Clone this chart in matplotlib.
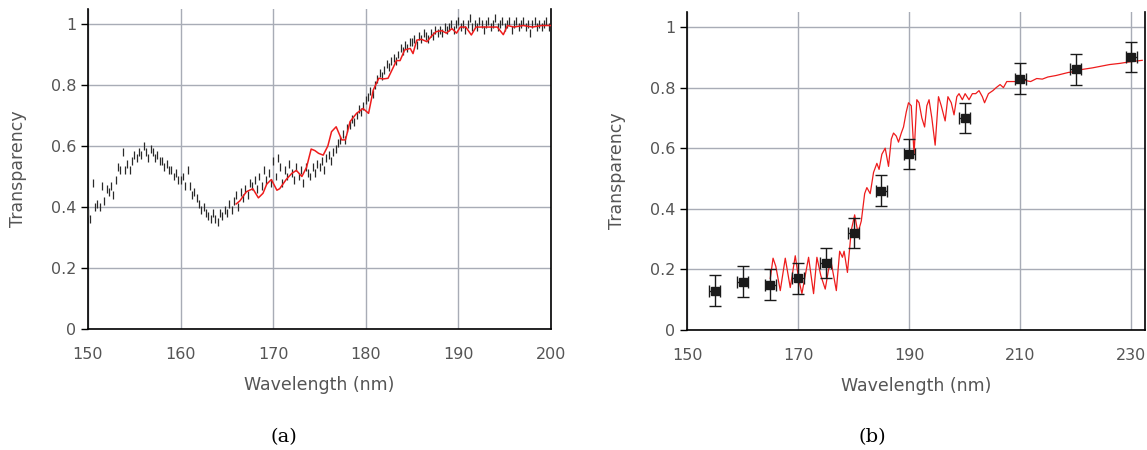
import numpy as np
import matplotlib
matplotlib.use("Agg")
import matplotlib.pyplot as plt

# ---------------- Panel (a) data ----------------
# measured transparency (black bars), 0.25 nm step from 150 to 200 nm
a_meas_start = 150.0
a_meas_step = 0.25
a_meas_T = [
    0.38, 0.36, 0.48, 0.40,  0.41, 0.40, 0.47, 0.42,  0.46, 0.45, 0.47, 0.44,
    0.49, 0.53, 0.52, 0.58,  0.52, 0.54, 0.52, 0.55,  0.57, 0.56, 0.58, 0.57,
    0.60, 0.58, 0.56, 0.59,  0.58, 0.56, 0.57, 0.55,  0.55, 0.53, 0.54, 0.52,
    0.52, 0.50, 0.51, 0.49,  0.49, 0.50, 0.47, 0.52,  0.47, 0.44, 0.45, 0.43,
    0.41, 0.39, 0.40, 0.38,  0.37, 0.36, 0.38, 0.36,  0.35, 0.38, 0.37, 0.39,
    0.38, 0.41, 0.39, 0.42,  0.44, 0.40, 0.45, 0.43,  0.46, 0.44, 0.48, 0.47,
    0.49, 0.46, 0.50, 0.47,  0.52, 0.49, 0.51, 0.48,  0.55, 0.50, 0.56, 0.53,
    0.48, 0.52, 0.50, 0.54,  0.51, 0.49, 0.53, 0.50,  0.52, 0.48, 0.53, 0.51,
    0.50, 0.53, 0.51, 0.54,  0.53, 0.55, 0.52, 0.56,  0.57, 0.55, 0.58, 0.59,
    0.61, 0.62, 0.64, 0.62,  0.66, 0.67, 0.69, 0.68,  0.70, 0.72, 0.71, 0.73,
    0.75, 0.76, 0.78, 0.77,  0.80, 0.82, 0.84, 0.83,  0.85, 0.87, 0.86, 0.88,
    0.89, 0.88, 0.90, 0.92,  0.91, 0.93, 0.92, 0.94,  0.94, 0.95, 0.93, 0.96,
    0.95, 0.97, 0.96, 0.95,  0.97, 0.96, 0.98, 0.97,  0.98, 0.97, 0.99, 0.98,
    0.99, 1.00, 0.98, 1.00,  1.01, 0.99, 1.00, 0.98,  1.00, 1.02, 0.99, 1.00,
    0.99, 1.01, 1.00, 0.98,  1.00, 1.01, 0.99, 1.00,  1.02, 0.99, 1.00, 1.01,
    0.99, 1.00, 1.01, 0.98,  1.00, 1.01, 0.99, 1.00,  1.01, 0.99, 1.00, 0.97,
    1.00, 1.01, 0.99, 1.00,  0.99, 1.00, 1.01, 0.99,  1.00,
]
a_meas_err = 0.013

# simulated transparency (red line)
a_sim_wl = [166.0, 166.4, 167.1, 167.8, 168.4, 168.9, 169.3, 169.8, 170.4, 170.7,
            171.4, 172.0, 172.5, 173.1, 173.6, 174.1, 174.5, 174.9, 175.4, 175.9,
            176.3, 176.8, 177.4, 177.8, 178.3, 179.0, 179.7, 180.3, 180.8, 181.4,
            181.9, 182.4, 183.0, 183.3, 183.7, 184.2, 184.8, 185.1, 185.5, 186.0,
            186.6, 187.1, 187.6, 188.2, 188.7, 189.3, 189.8, 190.2, 190.8, 191.4,
            191.9, 192.5, 193.0, 193.5, 194.2, 194.85, 195.3, 196.0, 197.0, 198.0,
            199.0, 200.0]
a_sim_T = [0.41, 0.42, 0.45, 0.46, 0.43, 0.445, 0.475, 0.49, 0.455, 0.46,
           0.49, 0.51, 0.52, 0.50, 0.53, 0.59, 0.585, 0.576, 0.57, 0.60,
           0.647, 0.663, 0.62, 0.62, 0.68, 0.707, 0.723, 0.707, 0.783, 0.822,
           0.82, 0.822, 0.86, 0.88, 0.88, 0.915, 0.92, 0.903, 0.947, 0.95,
           0.942, 0.96, 0.975, 0.978, 0.97, 0.985, 0.97, 0.99, 0.99, 0.964,
           0.99, 0.99, 0.99, 0.99, 0.99, 0.965, 0.995, 0.99, 0.995, 0.99,
           0.995, 0.995]

# ---------------- Panel (b) data ----------------
b_meas_wl = [155, 160, 165, 170, 175, 180, 185, 190, 200, 210, 220, 230]
b_meas_T = [0.13, 0.16, 0.15, 0.17, 0.22, 0.32, 0.46, 0.58, 0.70, 0.83, 0.86, 0.90]
b_meas_yerr = 0.05
b_meas_xerr = 1.0

b_sim_wl = [165.0, 165.5, 166.0, 166.8, 167.7, 168.6, 169.5, 170.1, 170.7, 171.3,
            171.9, 172.8, 173.4, 174.1, 174.9, 175.5, 176.0, 176.9, 177.5, 178.0,
            178.3, 178.9, 179.6, 180.2, 180.8, 181.4, 182.0, 182.4, 183.0, 183.6,
            184.2, 184.6, 185.1, 185.7, 186.3, 186.8, 187.2, 187.7, 188.1, 188.6,
            189.0, 189.5, 189.9, 190.4, 190.9, 191.4, 191.8, 192.3, 192.8, 193.2,
            193.6, 194.1, 194.7, 195.3, 195.8, 196.5, 197.0, 197.6, 198.1, 198.6,
            199.0, 199.6, 200.1, 200.8, 201.4, 202.0, 202.6, 203.2, 203.6, 204.3,
            205.1, 205.7, 206.4, 207.0, 207.6, 208.8, 209.6, 210.5, 211.9, 213.0,
            214.0, 215.0, 216.5, 218.7, 220.0, 221.2, 223.0, 226.1, 228.0, 229.7,
            232.0]
b_sim_T = [0.17, 0.237, 0.21, 0.13, 0.237, 0.14, 0.245, 0.17, 0.12, 0.18,
           0.24, 0.12, 0.24, 0.18, 0.135, 0.20, 0.22, 0.13, 0.26, 0.24,
           0.26, 0.19, 0.33, 0.38, 0.32, 0.36, 0.45, 0.47, 0.45, 0.52,
           0.55, 0.53, 0.58, 0.60, 0.54, 0.63, 0.65, 0.64, 0.62, 0.65,
           0.67, 0.72, 0.75, 0.74, 0.58, 0.76, 0.75, 0.70, 0.67, 0.74,
           0.76, 0.70, 0.61, 0.77, 0.74, 0.69, 0.77, 0.75, 0.71, 0.77,
           0.78, 0.76, 0.78, 0.76, 0.78, 0.78, 0.79, 0.77, 0.75, 0.78,
           0.79, 0.80, 0.81, 0.80, 0.82, 0.82, 0.82, 0.825, 0.82, 0.83,
           0.828, 0.835, 0.84, 0.85, 0.853, 0.86, 0.865, 0.876, 0.88, 0.885,
           0.89]

a_xticks = [150, 160, 170, 180, 190, 200]
b_xticks = [150, 170, 190, 210, 230]
yticks = [0, 0.2, 0.4, 0.6, 0.8, 1.0]
ytick_labels = ["0", "0.2", "0.4", "0.6", "0.8", "1"]

# ---------------- Figure ----------------
W, H = 1147, 450
fig = plt.figure(figsize=(W / 100, H / 100), dpi=100)

grid_c = "#a8acb6"
text_c = "#555555"


def style(ax, xticks, xlim):
    ax.set_xlim(*xlim)
    ax.set_ylim(0, 1.05)
    ax.set_xticks(xticks)
    ax.set_xticklabels([str(t) for t in xticks])
    ax.set_yticks(yticks)
    ax.set_yticklabels(ytick_labels)
    ax.grid(True, color=grid_c, lw=1.0)
    ax.set_axisbelow(True)
    ax.spines["top"].set_visible(False)
    for s in ("left", "bottom", "right"):
        ax.spines[s].set_color("black")
        ax.spines[s].set_linewidth(1.2)
    ax.tick_params(axis="both", colors="black", labelcolor=text_c,
                   labelsize=11.5, length=5, width=1, direction="out")
    ax.tick_params(axis="x", length=0, pad=13)
    ax.set_xlabel("Wavelength (nm)", fontsize=12.5, color=text_c, labelpad=10)
    ax.set_ylabel("Transparency", fontsize=12.5, color=text_c, labelpad=17)


# Panel (a)
ax1 = fig.add_axes([88 / W, 1 - 329 / H, 463 / W, 1.05 * 305 / H])
a_wl = a_meas_start + a_meas_step * np.arange(len(a_meas_T))
ax1.errorbar(a_wl, a_meas_T, yerr=a_meas_err, fmt="none", ecolor="#2a2a2a",
             elinewidth=0.9, capsize=0, zorder=3)
ax1.plot(a_sim_wl, a_sim_T, color="#ee1c1c", lw=1.1, zorder=4)
style(ax1, a_xticks, (150, 200))

# Panel (b)
ax2 = fig.add_axes([687 / W, 1 - 330 / H, 458 / W, 1.05 * 303 / H])
ax2.plot(b_sim_wl, b_sim_T, color="#ee1c1c", lw=0.9, zorder=3)
ax2.errorbar(b_meas_wl, b_meas_T, yerr=b_meas_yerr, xerr=b_meas_xerr, fmt="s",
             color="#1a1a1a", ms=5.5, elinewidth=1.0, capsize=4, capthick=1.0,
             zorder=4)
style(ax2, b_xticks, (150, 232.5))

fig.text(284 / W, 1 - 437 / H, "(a)", family="DejaVu Serif", fontsize=14,
         ha="center", va="center")
fig.text(872 / W, 1 - 437 / H, "(b)", family="DejaVu Serif", fontsize=14,
         ha="center", va="center")

fig.savefig("out.png", dpi=100)
